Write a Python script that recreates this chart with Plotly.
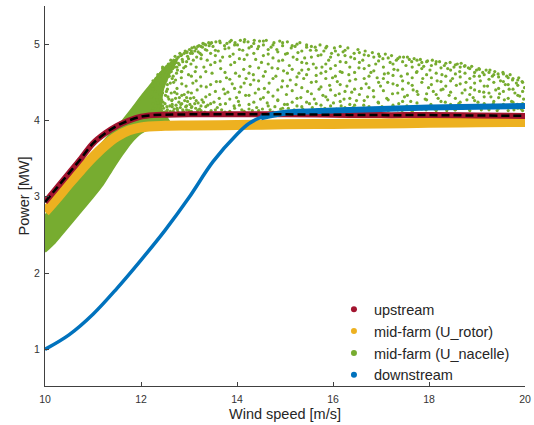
import plotly.graph_objects as go

# ---------------- data ----------------
up_x = [10, 10.25, 10.5, 10.75, 11, 11.25, 11.5, 11.75, 12, 12.25, 12.5, 13, 14, 15, 16, 17, 18, 19, 20]
up_y = [2.93, 3.12, 3.31, 3.50, 3.70, 3.83, 3.93, 4.00, 4.05, 4.07, 4.075, 4.08, 4.08, 4.08, 4.075, 4.07, 4.07, 4.065, 4.06]

rot_x = [10, 10.25, 10.5, 10.75, 11, 11.25, 11.5, 11.75, 12, 12.5, 13, 14, 15, 16, 17, 18, 19, 20]
rot_y = [2.80, 2.98, 3.17, 3.35, 3.52, 3.67, 3.79, 3.87, 3.91, 3.93, 3.935, 3.94, 3.95, 3.955, 3.96, 3.97, 3.975, 3.98]

down_x = [10, 10.5, 11, 11.5, 12, 12.5, 13, 13.5, 14, 14.25, 14.5, 15, 16, 17, 18, 19, 20]
down_y = [1.0, 1.19, 1.46, 1.80, 2.17, 2.56, 2.99, 3.46, 3.82, 3.96, 4.04, 4.10, 4.13, 4.15, 4.17, 4.18, 4.19]

# dense part of the nacelle cloud (outline of the solid-looking region)
nac_dense_x = [10, 10.2, 10.4, 10.6, 10.8, 11.0, 11.2, 11.4, 11.6, 11.8, 12.0, 12.2, 12.5, 12.6,
               12.42, 12.45, 12.58, 12.75, 12.55, 12.39, 12.25, 12.04, 11.8, 11.56, 11.3, 11.0, 10.5, 10.0]
nac_dense_y = [2.28, 2.40, 2.55, 2.70, 2.85, 3.00, 3.16, 3.36, 3.55, 3.72, 3.84, 3.90, 3.93, 3.96,
               4.15, 4.40, 4.60, 4.80, 4.72, 4.61, 4.50, 4.34, 4.14, 3.95, 3.78, 3.55, 3.10, 2.75]

# scattered part of the nacelle cloud, individual points
nac_pts = [
 (12.21,4.12),(12.22,4.31),(12.24,4.45),(12.25,4.22),(12.27,4.50),(12.28,4.15),(12.30,4.38),(12.31,4.55),(12.33,4.27),(12.34,4.10),(12.36,4.47),(12.37,4.19),(12.38,4.58),(12.39,4.34),
 (12.41,4.62),(12.42,4.13),(12.44,4.40),(12.45,4.70),(12.46,4.24),(12.48,4.53),(12.49,4.11),(12.51,4.33),(12.52,4.66),(12.54,4.18),(12.55,4.47),(12.57,4.74),(12.58,4.28),(12.59,4.58),
 (12.61,4.12),(12.62,4.79),(12.63,4.36),(12.65,4.21),(12.66,4.68),(12.68,4.50),(12.69,4.15),(12.71,4.84),(12.72,4.29),(12.74,4.62),(12.75,4.42),(12.77,4.11),(12.78,4.75),(12.79,4.24),
 (12.81,4.88),(12.82,4.17),(12.84,4.56),(12.85,4.33),(12.86,4.80),(12.88,4.12),(12.89,4.69),(12.91,4.26),(12.92,4.91),(12.94,4.45),(12.95,4.14),(12.97,4.84),(12.98,4.37),(12.99,4.60),
 (13.01,4.93),(13.02,4.21),(13.04,4.74),(13.05,4.12),(13.07,4.88),(13.08,4.49),(13.10,4.30),(13.11,4.96),(13.13,4.64),(13.14,4.16),(13.16,4.83),(13.17,4.40),(13.19,4.90),(13.19,4.23),
 (13.21,4.98),(13.22,4.15),(13.24,4.57),(13.26,4.86),(13.27,4.27),(13.29,5.01),(13.31,4.70),(13.33,4.11),(13.34,4.93),(13.36,4.44),(13.38,4.79),(13.39,4.20),
 (13.41,5.02),(13.43,4.34),(13.45,4.88),(13.46,4.13),(13.48,4.62),(13.50,4.97),(13.52,4.24),(13.54,4.76),(13.56,5.03),(13.57,4.51),(13.59,4.17),
 (13.61,4.91),(13.63,4.29),(13.64,5.04),(13.66,4.68),(13.68,4.14),(13.70,4.83),(13.72,4.41),(13.74,4.98),(13.76,4.22),(13.78,4.56),(13.79,5.01),
 (13.81,4.37),(13.83,4.95),(13.85,4.12),(13.87,4.73),(13.88,5.05),(13.90,4.48),(13.92,4.87),(13.94,4.19),(13.96,5.02),(13.97,4.62),(13.99,4.30),
 (14.01,4.99),(14.03,4.25),(14.05,4.81),(14.07,5.05),(14.08,4.44),(14.10,4.14),(14.12,4.92),(14.14,4.67),(14.16,5.06),(14.18,4.33),(14.19,4.55),
 (14.21,4.86),(14.23,5.03),(14.25,4.21),(14.27,4.71),(14.28,4.47),(14.30,4.97),(14.32,4.13),(14.34,4.60),(14.36,5.05),(14.38,4.36),(14.39,4.80),
 (14.41,4.17),(14.43,4.94),(14.45,4.52),(14.47,5.04),(14.49,4.28),(14.51,4.76),(14.53,4.15),(14.55,4.99),(14.57,4.42),(14.59,4.64),
 (14.61,5.05),(14.63,4.23),(14.65,4.87),(14.67,4.49),(14.69,4.14),(14.71,4.96),(14.73,4.69),(14.75,4.32),(14.77,5.02),(14.79,4.18),
 (14.81,4.58),(14.83,4.93),(14.85,4.26),(14.87,4.78),(14.89,5.04),(14.91,4.15),(14.93,4.44),(14.95,4.98),(14.97,4.65),(14.99,4.21),
 (15.01,4.87),(15.03,4.34),(15.05,5.03),(15.07,4.16),(15.09,4.72),(15.11,4.53),(15.13,4.95),(15.15,4.24),(15.17,4.83),(15.19,4.14),
 (15.21,4.97),(15.23,4.47),(15.25,4.19),(15.27,4.89),(15.29,4.62),(15.31,5.02),(15.33,4.30),(15.35,4.76),(15.37,4.15),(15.39,4.55),
 (15.41,4.82),(15.43,4.13),(15.45,4.99),(15.47,4.38),(15.49,4.67),(15.51,4.22),(15.53,4.92),(15.55,4.50),(15.57,4.17),(15.59,4.74),
 (15.61,4.28),(15.63,4.96),(15.65,4.59),(15.67,4.14),(15.69,4.85),(15.71,4.41),(15.73,4.99),(15.75,4.20),(15.77,4.70),(15.79,4.33),
 (15.81,4.91),(15.83,4.16),(15.85,4.64),(15.87,4.97),(15.89,4.27),(15.91,4.79),(15.93,4.46),(15.95,4.13),(15.97,4.88),(15.99,4.56),
 (16.01,4.23),(16.03,4.95),(16.05,4.72),(16.07,4.15),(16.09,4.51),(16.11,4.86),(16.13,4.35),(16.15,4.97),(16.17,4.19),(16.19,4.63),
 (16.21,4.90),(16.23,4.28),(16.25,4.14),(16.27,4.76),(16.29,4.45),(16.31,4.95),(16.33,4.60),(16.35,4.21),(16.37,4.83),(16.39,4.37),
 (16.42,4.17),(16.44,4.88),(16.47,4.54),(16.49,4.26),(16.52,4.93),(16.54,4.69),(16.57,4.15),(16.59,4.42),
 (16.62,4.79),(16.64,4.20),(16.67,4.91),(16.69,4.48),(16.72,4.31),(16.74,4.85),(16.77,4.14),(16.79,4.63),
 (16.82,4.89),(16.84,4.39),(16.87,4.16),(16.89,4.74),(16.92,4.56),(16.94,4.24),(16.97,4.84),(16.99,4.45),
 (17.02,4.18),(17.04,4.81),(17.07,4.61),(17.09,4.87),(17.12,4.29),(17.14,4.50),(17.17,4.14),(17.19,4.76),
 (17.22,4.85),(17.24,4.35),(17.27,4.67),(17.29,4.16),(17.32,4.79),(17.34,4.46),(17.37,4.22),(17.39,4.83),
 (17.42,4.58),(17.44,4.13),(17.47,4.83),(17.49,4.31),(17.52,4.72),(17.54,4.19),(17.57,4.49),(17.59,4.80),
 (17.62,4.25),(17.64,4.77),(17.67,4.40),(17.69,4.81),(17.72,4.15),(17.74,4.63),(17.77,4.34),(17.79,4.73),
 (17.82,4.80),(17.84,4.18),(17.87,4.55),(17.89,4.71),(17.92,4.28),(17.94,4.14),(17.97,4.78),(17.99,4.43),
 (18.02,4.66),(18.04,4.21),(18.07,4.79),(18.09,4.38),(18.12,4.15),(18.14,4.74),(18.17,4.52),(18.19,4.29),
 (18.22,4.77),(18.24,4.17),(18.27,4.60),(18.29,4.41),(18.32,4.72),(18.34,4.24),(18.37,4.13),(18.39,4.68),
 (18.42,4.33),(18.44,4.76),(18.47,4.19),(18.49,4.55),(18.52,4.70),(18.54,4.14),(18.57,4.46),(18.59,4.74),
 (18.62,4.22),(18.64,4.64),(18.67,4.75),(18.69,4.36),(18.72,4.16),(18.74,4.71),(18.77,4.50),(18.79,4.27),
 (18.82,4.69),(18.84,4.15),(18.87,4.43),(18.89,4.71),(18.92,4.30),(18.94,4.58),(18.97,4.18),(18.99,4.66),
 (19.02,4.24),(19.04,4.68),(19.07,4.52),(19.09,4.14),(19.12,4.63),(19.14,4.37),(19.17,4.20),(19.19,4.66),
 (19.22,4.45),(19.24,4.16),(19.27,4.66),(19.29,4.31),(19.32,4.58),(19.34,4.22),(19.37,4.64),(19.39,4.40),
 (19.42,4.13),(19.44,4.61),(19.47,4.35),(19.49,4.52),(19.52,4.19),(19.54,4.63),(19.57,4.27),(19.59,4.47),
 (19.62,4.58),(19.64,4.17),(19.67,4.41),(19.69,4.60),(19.72,4.25),(19.74,4.53),(19.77,4.14),(19.79,4.36),
 (19.82,4.49),(19.84,4.21),(19.87,4.56),(19.89,4.32),(19.92,4.15),(19.94,4.51),(19.97,4.28),(19.99,4.43),
]

# extra points along the dense upper-left edge and the lower strip of the cloud
nac_edge_pts = [
 (12.43,4.55),(12.46,4.62),(12.47,4.45),(12.50,4.64),(12.52,4.52),(12.53,4.38),(12.56,4.69),(12.57,4.58),
 (12.60,4.72),(12.61,4.49),(12.63,4.64),(12.64,4.74),(12.67,4.58),(12.68,4.79),(12.70,4.70),(12.72,4.53),
 (12.73,4.76),(12.76,4.66),(12.78,4.83),(12.80,4.73),(12.83,4.85),(12.84,4.64),(12.87,4.77),(12.90,4.88),
 (12.93,4.71),(12.96,4.90),(12.99,4.81),(13.03,4.88),(13.06,4.95),(13.09,4.79),(13.12,4.91),(13.18,4.97),
 (13.23,4.88),(13.28,4.96),(13.32,5.00),(13.37,4.92),(13.42,4.98),(13.47,5.02),
 (12.43,4.27),(12.47,4.16),(12.50,4.22),(12.53,4.12),(12.56,4.31),(12.60,4.19),(12.64,4.26),(12.67,4.12),
 (12.70,4.37),(12.73,4.20),(12.76,4.14),(12.80,4.30),(12.83,4.21),(12.87,4.14),(12.90,4.34),(12.93,4.18),
 (12.97,4.25),(13.00,4.13),(13.03,4.29),(13.06,4.18),(13.12,4.22),(13.18,4.13),(13.25,4.19),(13.30,4.24),
]

# scattered part of the nacelle cloud, column-wise (wind speed, [power values])
nac_cols = [
 (12.25,[4.16,4.41,4.52]),(12.35,[4.23,4.49,4.14,4.60]),(12.45,[4.36,4.57,4.19,4.68]),(12.55,[4.14,4.41,4.63,4.71]),
 (12.65,[4.27,4.55,4.76,4.18]),(12.75,[4.35,4.70,4.81,4.16]),(12.85,[4.22,4.64,4.86,4.48]),(12.95,[4.30,4.77,4.89,4.19]),
 (13.05,[4.17,4.58,4.91,4.36]),(13.15,[4.26,4.70,4.94,4.52]),(13.25,[4.13,4.45,4.97,4.81]),(13.35,[4.31,4.64,4.99,4.18]),
 (13.45,[4.22,4.73,5.01,4.47]),(13.55,[4.14,4.38,4.92,4.85]),(13.65,[4.51,4.78,5.02,4.21]),(13.75,[4.11,4.63,4.94,4.35]),
 (13.85,[4.28,4.54,5.03,4.84]),(13.95,[4.16,4.42,4.76,4.99]),(14.05,[4.20,4.58,4.93,4.37]),(14.15,[4.12,4.49,4.80,5.03]),
 (14.25,[4.33,4.62,4.95,4.15]),(14.35,[4.24,4.53,4.88,5.01]),(14.45,[4.13,4.41,4.69,4.97]),(14.55,[4.30,4.58,4.85,5.04]),
 (14.65,[4.19,4.37,4.74,4.93]),(14.75,[4.11,4.55,4.82,4.99]),(14.85,[4.27,4.68,4.90,4.40]),(14.95,[4.16,4.52,4.79,5.02]),
 (15.05,[4.21,4.45,4.88,4.62]),(15.15,[4.12,4.39,4.67,4.98]),(15.25,[4.29,4.57,4.80,5.00]),(15.35,[4.18,4.43,4.91,4.66]),
 (15.45,[4.24,4.60,4.75,4.96]),(15.55,[4.13,4.35,4.83,4.97]),(15.65,[4.22,4.51,4.69,4.92]),(15.75,[4.15,4.44,4.86,4.62]),
 (15.85,[4.31,4.55,4.74,4.95]),(15.95,[4.19,4.40,4.83,4.68]),(16.05,[4.12,4.58,4.91,4.33]),(16.15,[4.25,4.47,4.77,4.64]),
 (16.25,[4.17,4.38,4.85,4.92]),(16.35,[4.29,4.52,4.70,4.13]),(16.45,[4.20,4.63,4.81,4.41]),(16.55,[4.14,4.34,4.76,4.89]),
 (16.65,[4.26,4.55,4.86,4.68]),(16.75,[4.18,4.43,4.72,4.58]),(16.85,[4.12,4.31,4.65,4.83]),(16.95,[4.23,4.50,4.78,4.87]),
 (17.05,[4.16,4.39,4.70,4.55]),(17.15,[4.27,4.62,4.82,4.13]),(17.25,[4.20,4.48,4.74,4.59]),(17.35,[4.14,4.36,4.66,4.81]),
 (17.45,[4.25,4.52,4.77,4.41]),(17.55,[4.17,4.61,4.83,4.33]),(17.65,[4.12,4.46,4.70,4.56]),(17.75,[4.23,4.38,4.79,4.64]),
 (17.85,[4.15,4.50,4.68,4.76]),(17.95,[4.27,4.35,4.60,4.77]),(18.05,[4.18,4.47,4.72,4.56]),(18.15,[4.13,4.34,4.62,4.77]),
 (18.25,[4.25,4.51,4.69,4.40]),(18.35,[4.16,4.45,4.58,4.75]),(18.45,[4.21,4.37,4.66,4.52]),(18.55,[4.14,4.29,4.61,4.73]),
 (18.65,[4.24,4.48,4.70,4.57]),(18.75,[4.18,4.40,4.62,4.72]),(18.85,[4.13,4.34,4.55,4.68]),(18.95,[4.26,4.49,4.63,4.40]),
 (19.05,[4.17,4.38,4.58,4.67]),(19.15,[4.22,4.45,4.60,4.31]),(19.25,[4.14,4.36,4.54,4.63]),(19.35,[4.25,4.50,4.60,4.19]),
 (19.45,[4.16,4.42,4.57,4.30]),(19.55,[4.21,4.38,4.51,4.61]),(19.65,[4.13,4.29,4.47,4.56]),(19.75,[4.24,4.41,4.55,4.19]),
 (19.85,[4.16,4.33,4.46,4.53]),(19.95,[4.22,4.38,4.50,4.13]),
]

nac_x = ([p[0] for p in nac_pts] + [p[0] for p in nac_edge_pts]
         + [c[0] for c in nac_cols for _ in c[1]])
nac_y = ([p[1] for p in nac_pts] + [p[1] for p in nac_edge_pts]
         + [v for c in nac_cols for v in c[1]])

series_names = ["upstream", "mid-farm (U_rotor)", "mid-farm (U_nacelle)", "downstream"]
series_colors = ["#A2142F", "#EDB120", "#77AC30", "#0072BD"]

x_ticks = [10, 12, 14, 16, 18, 20]
y_ticks = [1, 2, 3, 4, 5]

# ---------------- figure ----------------
RED, ORANGE, GREEN, BLUE = series_colors
fig = go.Figure()

fig.add_trace(go.Scatter(x=nac_dense_x, y=nac_dense_y, mode="lines", fill="toself",
                         fillcolor=GREEN, line=dict(color=GREEN, width=2.5, shape="spline", smoothing=0.6),
                         showlegend=False, hoverinfo="skip"))
fig.add_trace(go.Scatter(x=nac_x, y=nac_y, mode="markers",
                         marker=dict(color=GREEN, size=3.2, line=dict(width=0)),
                         showlegend=False))
fig.add_trace(go.Scatter(x=rot_x, y=rot_y, mode="lines", line=dict(color=ORANGE, width=10, shape="spline"),
                         showlegend=False))
fig.add_trace(go.Scatter(x=up_x, y=up_y, mode="lines", line=dict(color=RED, width=6, shape="spline"),
                         showlegend=False))
fig.add_trace(go.Scatter(x=down_x, y=down_y, mode="lines", line=dict(color=BLUE, width=3.5, shape="spline"),
                         showlegend=False))
fig.add_trace(go.Scatter(x=down_x[10:], y=down_y[10:], mode="lines", line=dict(color=BLUE, width=6, shape="spline"),
                         showlegend=False))
fig.add_trace(go.Scatter(x=up_x, y=up_y, mode="lines",
                         line=dict(color="black", width=2.5, dash="8px,4px", shape="spline"),
                         showlegend=False))

for name, col in zip(series_names, series_colors):
    fig.add_trace(go.Scatter(x=[None], y=[None], mode="markers", name=name,
                             marker=dict(color=col, size=6)))

axis_common = dict(showline=True, linecolor="#404040", linewidth=1, ticks="inside",
                   ticklen=4, tickcolor="#404040", showgrid=False, zeroline=False,
                   automargin=False, tickfont=dict(size=10.5, color="#333333"))
fig.update_xaxes(range=[10, 20], tickvals=x_ticks, ticktext=[str(v) for v in x_ticks],
                 ticklabelstandoff=3,
                 title=dict(text="Wind speed [m/s]", font=dict(size=14.5, color="#262626"), standoff=5),
                 **axis_common)
fig.update_yaxes(range=[0.52, 5.5], tickvals=y_ticks, ticktext=[str(v) for v in y_ticks],
                 ticklabelstandoff=2,
                 title=dict(text="Power [MW]", font=dict(size=14.5, color="#262626"), standoff=0),
                 **axis_common)

fig.update_layout(
    width=534, height=425,
    margin=dict(l=45, r=9, t=6, b=39),
    plot_bgcolor="white", paper_bgcolor="white",
    font=dict(family="Liberation Sans, Arial, sans-serif", color="#262626"),
    legend=dict(x=0.602, y=-0.014, xanchor="left", yanchor="bottom",
                font=dict(size=14.5, color="#262626"), bgcolor="rgba(0,0,0,0)",
                itemsizing="trace", tracegroupgap=0),
    showlegend=True,
)

fig.write_html("out.html", config={"displayModeBar": False},
               post_script="document.body.style.margin='0px';")
